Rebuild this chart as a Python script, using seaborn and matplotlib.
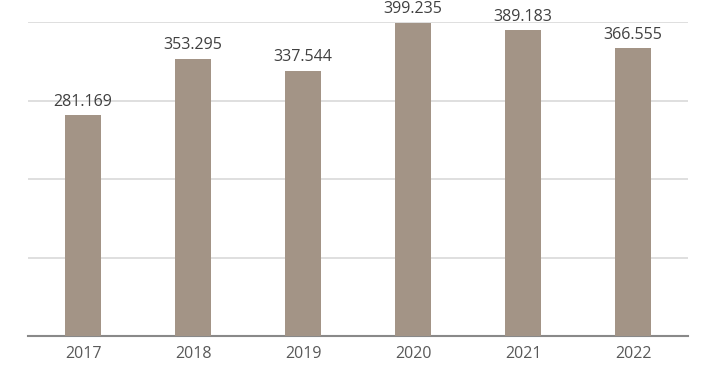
import matplotlib
matplotlib.use("Agg")
import matplotlib.pyplot as plt
import seaborn as sns
import pandas as pd

years = ["2017", "2018", "2019", "2020", "2021", "2022"]
values = [281.169, 353.295, 337.544, 399.235, 389.183, 366.555]
labels = ["281.169", "353.295", "337.544", "399.235", "389.183", "366.555"]

sns.set_theme(style="white")
plt.rcParams['font.family'] = ['Open Sans', 'DejaVu Sans']

df = pd.DataFrame({"year": years, "value": values})

fig = plt.figure(figsize=(7.2, 3.68), dpi=100)
ax = fig.add_axes([28/720, 1-336/368, 660/720, (336-22)/368])

sns.barplot(data=df, x="year", y="value", color="#A39486", saturation=1,
            width=0.32, ax=ax, zorder=3, linewidth=0, edgecolor="none")

ax.set_ylim(0, 400)
ax.set_yticks([100, 200, 300, 400])
ax.yaxis.grid(True, color="#D9D9D9", linewidth=1.2, zorder=0)
ax.set_axisbelow(True)
ax.tick_params(axis='y', left=False, labelleft=False)
ax.tick_params(axis='x', bottom=False, labelsize=11.5, colors="#595959", pad=1)
for s in ["top", "right", "left"]:
    ax.spines[s].set_visible(False)
ax.spines["bottom"].set_color("#898989")
ax.spines["bottom"].set_linewidth(1.5)
ax.set_xlabel("")
ax.set_ylabel("")

ax.bar_label(ax.containers[0], labels=labels, padding=4, fontsize=11.5,
             color="#404040")

fig.savefig("out.png", dpi=100)
